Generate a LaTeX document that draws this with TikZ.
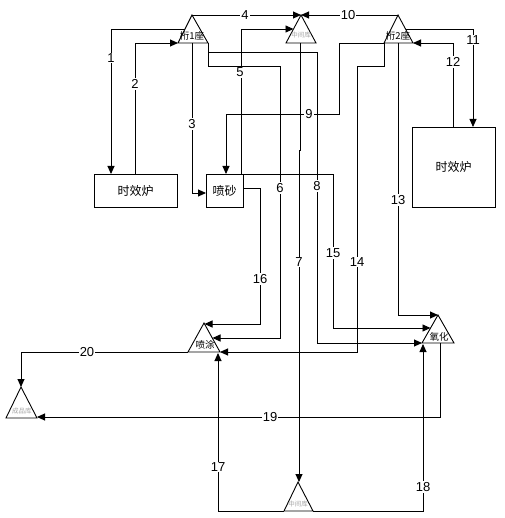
\documentclass[tikz,border=0pt]{standalone}
\usepackage{fontspec}
\setmainfont{Liberation Sans}
\newfontfamily\cjk{Noto Sans CJK SC}
\usetikzlibrary{arrows.meta}
\begin{document}
\begin{tikzpicture}[x=1pt,y=-1pt,
  line width=0.9pt,
  >={Triangle[length=8pt,width=7pt]},
  box/.style={draw,line width=0.9pt,inner sep=0pt,outer sep=0pt,font=\cjk\fontsize{12}{12}\selectfont},
  tri/.style={draw,line width=0.9pt},
  lab/.style={fill=white,inner sep=1pt,font=\fontsize{13}{13}\selectfont},
  tlab/.style={inner sep=0pt,font=\cjk\fontsize{9.5}{9.5}\selectfont},
  glab/.style={inner sep=0pt,text=black!35,font=\cjk\fontsize{6.5}{6.5}\selectfont}]
\useasboundingbox (0,0) rectangle (504,518);
\fill[white] (0,0) rectangle (504,518);
% boxes
\node[box,minimum width=83pt,minimum height=33pt] (F1) at (135.5,190.5) {时效炉};
\node[box,minimum width=37pt,minimum height=33pt] (PS) at (224.5,190.5) {喷砂};
\node[box,minimum width=83pt,minimum height=80pt] (F2) at (453.5,167) {时效炉};
% triangles
\coordinate (T1a) at (192,15); \coordinate (T1l) at (178,43); \coordinate (T1r) at (208,43);
\coordinate (T2a) at (301,15); \coordinate (T2l) at (286,43); \coordinate (T2r) at (316,43);
\coordinate (T3a) at (398,15); \coordinate (T3l) at (384,43); \coordinate (T3r) at (413,43);
\coordinate (TPa) at (204,323); \coordinate (TPl) at (188,352); \coordinate (TPr) at (220,352);
\coordinate (TOa) at (438,315); \coordinate (TOl) at (422,343); \coordinate (TOr) at (454,343);
\coordinate (TCa) at (21,387); \coordinate (TCl) at (6,418); \coordinate (TCr) at (37,418);
\coordinate (TBa) at (298,482); \coordinate (TBl) at (284,511); \coordinate (TBr) at (313,511);
\foreach \t in {T1,T2,T3,TP,TO,TC,TB}{\draw[tri] (\t a) -- (\t l) -- (\t r) -- cycle;}
\node[tlab] (n1) at (192,36) {桁1座};
\node[tlab] (n3) at (398,36) {桁2座};
\node[tlab] (np) at (205,345) {喷涂};
\node[tlab] (no) at (439,337) {氧化};
\node[glab] (n2) at (301,35) {中间库};
\node[glab] (nc) at (22,411) {成品库};
\node[glab] (nb) at (298,504) {中间库};
% connectors
\draw[->] (185,29) -- (111,29) -- (F1.north -| 111,0);
\node[lab] (l1) at (111,58) {1};
\draw[->] (F1.north -| 135,0) -- (135,43) -- (T1l);
\node[lab] (l2) at (135,84) {2};
\draw[->] (192,43) -- (192,193) -- (PS.west |- 0,193);
\node[lab] (l3) at (192,124) {3};
\draw[->] (T1a) -- (T2a);
\node[lab] (l4) at (245,15) {4};
\draw[->] (PS.north -| 241,0) -- (241,29) -- (293.5,29);
\node[lab] (l5) at (240,72) {5};
\draw[->] (T1r) -- (208,66) -- (280,66) -- (280,338) -- (212.5,338);
\node[lab] (l6) at (280,188) {6};
\draw[->] (300,43) -- (300,150) -- (299,150) -- (299,482);
\node[lab] (l7) at (299,262) {7};
\draw[->] (208,52) -- (317,52) -- (317,343) -- (TOl);
\node[lab] (l8) at (317,186) {8};
\draw[->] (T3l) -- (339,43) -- (339,114) -- (226,114) -- (PS.north -| 226,0);
\node[lab] (l9) at (309,114) {9};
\draw[->] (T3a) -- (T2a);
\node[lab] (l10) at (348,15) {10};
\draw[->] (405.5,29) -- (473,29) -- (F2.north -| 473,0);
\node[lab] (l11) at (473,40) {11};
\draw[->] (F2.north -| 453,0) -- (453,43) -- (T3r);
\node[lab] (l12) at (453,62) {12};
\draw[->] (398,43) -- (398,315) -- (TOa);
\node[lab] (l13) at (398,200) {13};
\draw[->] (T3l) -- (384,66) -- (357,66) -- (357,352) -- (TPr);
\node[lab] (l14) at (357,262) {14};
\draw[->] (PS.north east) -- (333,174) -- (333,328) -- (430.5,328);
\node[lab] (l15) at (333,253) {15};
\draw[->] (PS.east |- 0,188) -- (260,188) -- (260,324) -- (204.5,324);
\node[lab] (l16) at (260,279) {16};
\draw[->] (TBl) -- (218,511) -- (218,353);
\node[lab] (l17) at (218,467) {17};
\draw[->] (TBr) -- (423,511) -- (423,344);
\node[lab] (l18) at (423,487) {18};
\draw[->] (440,343) -- (440,417) -- (37,417);
\node[lab] (l19) at (270,417) {19};
\draw[->] (TPl) -- (21,352) -- (TCa);
\node[lab] (l20) at (87,352) {20};
\end{tikzpicture}
\end{document}
